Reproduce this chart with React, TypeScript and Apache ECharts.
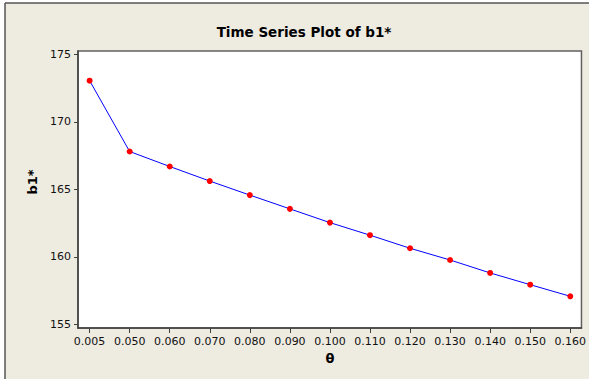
import React, { useEffect, useRef } from "react";
import * as echarts from "echarts";

const categories = ["0.005", "0.050", "0.060", "0.070", "0.080", "0.090", "0.100", "0.110", "0.120", "0.130", "0.140", "0.150", "0.160"];
const values = [173.06, 167.81, 166.7, 165.62, 164.58, 163.56, 162.54, 161.61, 160.64, 159.77, 158.81, 157.94, 157.08];
const yTicks = [155, 160, 165, 170, 175];
const title = "Time Series Plot of b1*";
const yName = "b1*";
const xName = "θ";

const FONT = "DejaVu Sans";

export default function App() {
  const ref = useRef<HTMLDivElement>(null);
  useEffect(() => {
    if (!ref.current) return;
    const chart = echarts.init(ref.current, null, { renderer: "svg" });
    const idx = categories.map((_, i) => i);
    chart.setOption({
      animation: false,
      backgroundColor: "#ffffff",
      graphic: [
        { type: "rect", shape: { x: 5, y: 3, width: 600, height: 400 }, style: { fill: "#EEEBE1" }, z: -10 },
        { type: "line", shape: { x1: 5, y1: 3, x2: 589, y2: 3 }, style: { stroke: "#555", lineWidth: 1.5 }, z: 1 },
        { type: "line", shape: { x1: 5, y1: 3, x2: 5, y2: 379 }, style: { stroke: "#555", lineWidth: 1.5 }, z: 1 },
        {
          type: "text", x: 304, y: 32,
          style: { text: title, font: `bold 13.5px "${FONT}"`, fill: "#000", textAlign: "center", textVerticalAlign: "middle" },
        },
        {
          type: "text", x: 32, y: 182, rotation: Math.PI / 2,
          style: { text: yName, font: `bold 13px "${FONT}"`, fill: "#000", textAlign: "center", textVerticalAlign: "middle" },
        },
        {
          type: "text", x: 330, y: 358,
          style: { text: xName, font: `bold 13px "${FONT}"`, fill: "#000", textAlign: "center", textVerticalAlign: "middle" },
        },
      ],
      grid: {
        left: 78, top: 51, width: 504, height: 277,
        show: true, backgroundColor: "#ffffff", borderColor: "#606060", borderWidth: 1.5,
      },
      xAxis: {
        type: "value", min: -0.29, max: 12.28,
        axisLine: { show: true, onZero: false, lineStyle: { color: "#404040", width: 1.5 } },
        axisTick: { show: true, length: 5, customValues: idx, lineStyle: { color: "#404040" } },
        axisLabel: {
          customValues: idx, margin: 8,
          formatter: (v: number) => categories[Math.round(v)] ?? "",
          fontFamily: FONT, fontSize: 11, color: "#111",
        },
        splitLine: { show: false },
      },
      yAxis: {
        type: "value", min: 154.73, max: 175.26,
        axisLine: { show: true, onZero: false, lineStyle: { color: "#404040", width: 1.5 } },
        axisTick: { show: true, length: 4, customValues: yTicks, lineStyle: { color: "#404040" } },
        axisLabel: { customValues: yTicks, margin: 7, fontFamily: FONT, fontSize: 11, color: "#111" },
        splitLine: { show: false },
      },
      series: [
        {
          type: "line",
          data: values.map((v, i) => [i, v]),
          symbol: "circle",
          symbolSize: 6,
          lineStyle: { color: "#0000FF", width: 1 },
          itemStyle: { color: "#FF0000" },
          z: 3,
        },
      ],
    });
    return () => chart.dispose();
  }, []);
  return <div ref={ref} style={{ position: "fixed", left: 0, top: 0, width: 589, height: 379 }} />;
}
